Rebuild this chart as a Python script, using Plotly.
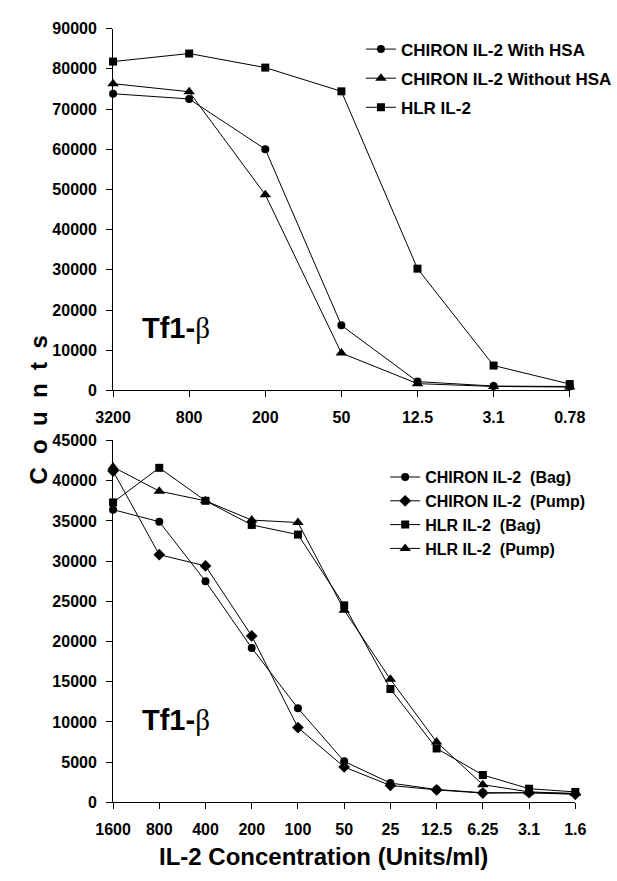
import plotly.graph_objects as go

W, H = 617, 881

# ---- data: top panel ----
conc_top = ["3200", "800", "200", "50", "12.5", "3.1", "0.78"]
chiron_with_hsa = [73800, 72500, 60000, 16200, 2200, 1100, 1000]
chiron_without_hsa = [76300, 74300, 48700, 9300, 1700, 1000, 850]
hlr_top = [81800, 83800, 80300, 74400, 30300, 6200, 1600]

# ---- data: bottom panel ----
conc_bot = ["1600", "800", "400", "200", "100", "50", "25", "12.5", "6.25", "3.1", "1.6"]
chiron_bag = [36400, 34900, 27500, 19200, 11700, 5100, 2400, 1600, 1200, 1200, 1100]
chiron_pump = [41200, 30800, 29400, 20700, 9300, 4400, 2100, 1550, 1150, 1200, 1000]
hlr_bag = [37300, 41600, 37500, 34500, 33300, 24500, 14100, 6700, 3400, 1700, 1300]
hlr_pump = [41700, 38700, 37500, 35100, 34800, 23900, 15300, 7500, 2200, 1300, 1100]

top_names = ["CHIRON IL-2 With HSA", "CHIRON IL-2 Without HSA", "HLR IL-2"]
bot_names = ["CHIRON IL-2\u00a0\u00a0(Bag)", "CHIRON IL-2\u00a0\u00a0(Pump)",
             "HLR IL-2\u00a0\u00a0(Bag)", "HLR IL-2\u00a0\u00a0(Pump)"]

FONT = "Liberation Sans, Arial, sans-serif"
fig = go.Figure()

def add(x, y, name, symbol, size, xa, ya, legend, grp):
    fig.add_trace(go.Scatter(
        x=x, y=y, name=name, mode="lines+markers",
        line=dict(color="black", width=1),
        marker=dict(symbol=symbol, size=size, color="black"),
        xaxis=xa, yaxis=ya, legend=legend, legendgroup=grp,
        cliponaxis=False, showlegend=True))

add(conc_top, chiron_with_hsa, top_names[0], "circle", 8, "x", "y", "legend", "t1")
add(conc_top, chiron_without_hsa, top_names[1], "triangle-up", 10, "x", "y", "legend", "t2")
add(conc_top, hlr_top, top_names[2], "square", 8, "x", "y", "legend", "t3")

add(conc_bot, chiron_bag, bot_names[0], "circle", 8, "x2", "y2", "legend2", "b1")
add(conc_bot, chiron_pump, bot_names[1], "diamond", 9, "x2", "y2", "legend2", "b2")
add(conc_bot, hlr_bag, bot_names[2], "square", 8, "x2", "y2", "legend2", "b3")
add(conc_bot, hlr_pump, bot_names[3], "triangle-up", 10, "x2", "y2", "legend2", "b4")

def px(x):
    return x / W

def py(y):
    return 1 - y / H

tickfont = dict(family=FONT, size=16, color="black", weight="bold")
axis_common = dict(showline=True, linecolor="black", linewidth=1, ticks="outside",
                   ticklen=6, tickcolor="black", tickwidth=1, showgrid=False,
                   zeroline=False, tickfont=tickfont, ticklabelstandoff=6)

fig.update_layout(
    width=W, height=H, margin=dict(l=0, r=0, t=0, b=0),
    paper_bgcolor="white", plot_bgcolor="white",
    font=dict(family=FONT, color="black"),
    xaxis=dict(axis_common, type="category", domain=[px(102), px(592)],
               range=[0, len(conc_top) - 1], anchor="y"),
    yaxis=dict(axis_common, domain=[py(390), py(21)], range=[0, 90000],
               dtick=10000, tickformat="d", anchor="x"),
    xaxis2=dict(axis_common, type="category", domain=[px(102), px(598)],
                range=[0, len(conc_bot) - 1], anchor="y2"),
    yaxis2=dict(axis_common, domain=[py(810), py(441)], range=[0, 45000],
                dtick=5000, tickformat="d", anchor="x2"),
    legend=dict(x=px(368), y=py(24), xanchor="left", yanchor="top",
                bgcolor="rgba(0,0,0,0)",
                font=dict(family=FONT, size=17, color="black", weight="bold"),
                tracegroupgap=4, itemwidth=30),
    legend2=dict(x=px(394), y=py(461), xanchor="left", yanchor="top",
                 bgcolor="rgba(0,0,0,0)",
                 font=dict(family=FONT, size=16, color="black", weight="bold"),
                 tracegroupgap=0, itemwidth=30),
    showlegend=True,
)

tf = "<b>Tf1-</b><span style='font-family:Liberation Serif, Times New Roman, serif'>\u03b2</span>"
fig.add_annotation(text=tf, x=px(131), y=py(326), xref="paper", yref="paper",
                   xanchor="left", yanchor="middle", showarrow=False,
                   font=dict(family=FONT, size=29, color="black"))
fig.add_annotation(text=tf, x=px(131), y=py(726), xref="paper", yref="paper",
                   xanchor="left", yanchor="middle", showarrow=False,
                   font=dict(family=FONT, size=29, color="black"))

fig.add_annotation(text="<b>C\u00a0\u00a0o\u00a0\u00a0u\u00a0\u00a0n\u00a0\u00a0t\u00a0\u00a0s</b>",
                   x=px(22), y=py(410), xref="paper", yref="paper", textangle=-90,
                   xanchor="center", yanchor="middle", showarrow=False,
                   font=dict(family=FONT, size=24, color="black"))
fig.add_annotation(text="<b>IL-2 Concentration (Units/ml)</b>",
                   x=px(328), y=py(865), xref="paper", yref="paper",
                   xanchor="center", yanchor="middle", showarrow=False,
                   font=dict(family=FONT, size=24, color="black"))

fig.write_html("out.html")
